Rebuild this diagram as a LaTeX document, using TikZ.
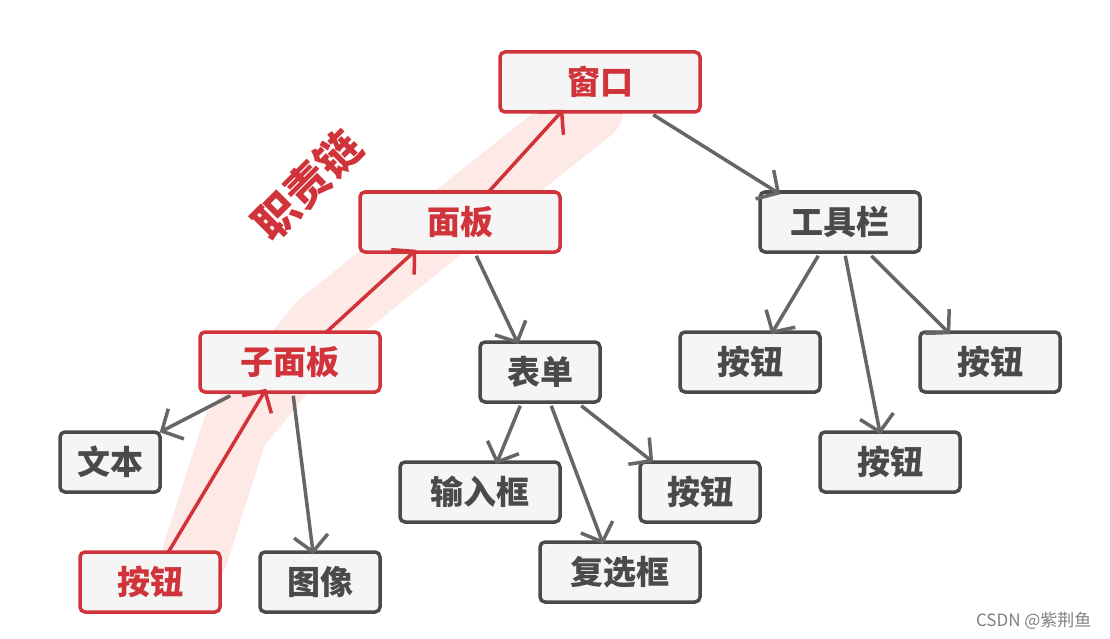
\documentclass[tikz,border=0pt]{standalone}
\usepackage{fontspec}
\setmainfont{Noto Sans CJK SC}
\usetikzlibrary{arrows.meta}
\definecolor{cred}{HTML}{D0343A}
\definecolor{cgrey}{HTML}{4A4A4A}
\definecolor{carr}{HTML}{666666}
\definecolor{cfill}{HTML}{F5F5F5}
\definecolor{cband}{HTML}{FDE3DF}
\begin{document}
\begin{tikzpicture}[x=1pt,y=-1pt,
  box/.style={draw=cgrey,line width=3.5pt,fill=cfill,rounded corners=5pt,minimum height=60pt,inner sep=0pt,text=cgrey,font=\fontsize{33}{34}\selectfont\bfseries},
  rbox/.style={box,draw=cred,text=cred},
  arr/.style={draw=carr,line width=3.5pt,-{Straight Barb[length=16pt,width=34pt,line width=3.5pt]}},
  rarr/.style={arr,draw=cred}]
\useasboundingbox (0,0) rectangle (1110,639);
\draw[cband,line width=66pt,line cap=round,line join=round,opacity=0.8]
  (195,555) -- (235,430) -- (320,325) -- (470,205) -- (590,110);
\node[rbox,minimum width=200pt] (win) at (600,82) {窗口};
\node[rbox,minimum width=200pt] (pan) at (460,222) {面板};
\node[rbox,minimum width=180pt] (sub) at (290,362) {子面板};
\node[rbox,minimum width=140pt] (rb) at (150,582) {按钮};
\node[box,minimum width=100pt] (txt) at (110,462) {文本};
\node[box,minimum width=120pt] (img) at (320,582) {图像};
\node[box,minimum width=120pt] (form) at (540,372) {表单};
\node[box,minimum width=160pt] (inp) at (480,492) {输入框};
\node[box,minimum width=160pt] (chk) at (620,572) {复选框};
\node[box,minimum width=120pt] (fb) at (700,492) {按钮};
\node[box,minimum width=160pt] (tool) at (840,222) {工具栏};
\node[box,minimum width=140pt] (tb1) at (750,362) {按钮};
\node[box,minimum width=140pt] (tb2) at (990,362) {按钮};
\node[box,minimum width=140pt] (tb3) at (890,462) {按钮};
\node[text=cred,font=\fontsize{44}{44}\selectfont\bfseries,rotate=45] (lab) at (307,185) {职责链};
\node[text=gray,font=\fontsize{17}{18}\selectfont,anchor=east] (wm) at (1095,621) {CSDN @紫荆鱼};
\draw[rarr] ([xshift=90pt,yshift=-2pt]rb.north west) -- ([xshift=68pt,yshift=5pt]sub.south west);
\draw[rarr] ([xshift=128pt,yshift=-2pt]sub.north west) -- ([xshift=58pt,yshift=4pt]pan.south west);
\draw[rarr] ([xshift=130pt,yshift=-2pt]pan.north west) -- ([xshift=65pt,yshift=4pt]win.south west);
\draw[arr] ([xshift=155pt,yshift=-1pt]win.south west) -- ([xshift=22pt,yshift=-4pt]tool.north west);
\draw[arr] ([xshift=32pt,yshift=-2pt]sub.south west) -- ([xshift=-2pt,yshift=-2pt]txt.north east);
\draw[arr] ([xshift=95pt,yshift=-2pt]sub.south west) -- ([xshift=55pt,yshift=-4pt]img.north west);
\draw[arr] ([xshift=118pt,yshift=-2pt]pan.south west) -- ([xshift=40pt,yshift=-4pt]form.north west);
\draw[arr] ([xshift=42pt,yshift=-2pt]form.south west) -- ([xshift=98pt,yshift=-4pt]inp.north west);
\draw[arr] ([xshift=73pt,yshift=-2pt]form.south west) -- ([xshift=65pt,yshift=-4pt]chk.north west);
\draw[arr] ([xshift=103pt,yshift=-2pt]form.south west) -- ([xshift=15pt,yshift=-2pt]fb.north west);
\draw[arr] ([xshift=60pt,yshift=-2pt]tool.south west) -- ([xshift=93pt,yshift=-4pt]tb1.north west);
\draw[arr] ([xshift=87pt,yshift=-2pt]tool.south west) -- ([xshift=62pt,yshift=-4pt]tb3.north west);
\draw[arr] ([xshift=113pt,yshift=-2pt]tool.south west) -- ([xshift=32pt,yshift=-4pt]tb2.north west);
\end{tikzpicture}
\end{document}
